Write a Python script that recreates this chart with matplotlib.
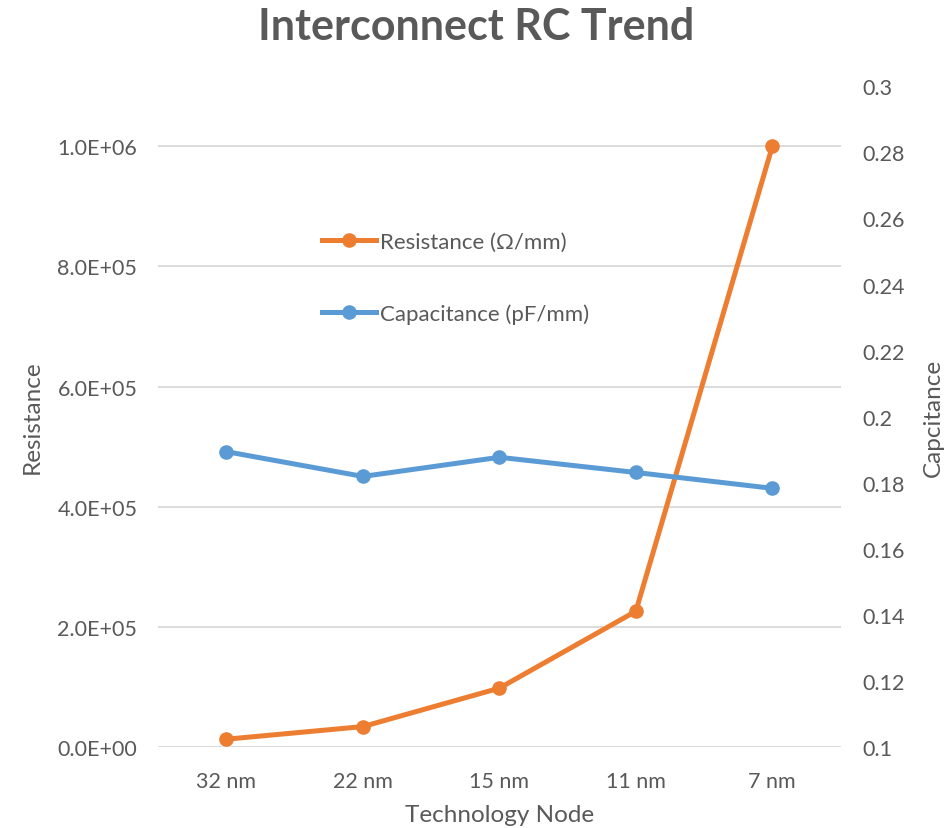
import matplotlib.pyplot as plt
import numpy as np

# Data
nodes = ['32 nm', '22 nm', '15 nm', '11 nm', '7 nm']
resistance = [1.3e4, 3.4e4, 9.8e4, 2.26e5, 1.0e6]   # Ohm/mm
capacitance = [0.1894, 0.1819, 0.1877, 0.1831, 0.1783]  # pF/mm

res_ticks = [0, 2e5, 4e5, 6e5, 8e5, 1e6]
cap_ticks = [0.1, 0.12, 0.14, 0.16, 0.18, 0.2, 0.22, 0.24, 0.26, 0.28, 0.3]

ORANGE = '#ED7D31'
BLUE = '#5B9BD5'
GRAY = '#595959'
GRID = '#D9D9D9'


def plot_rc_trend(output='out.png'):
    plt.rcParams['font.family'] = ['Lato', 'DejaVu Sans']

    fig = plt.figure(figsize=(9.53, 8.29), dpi=100)
    ax = fig.add_axes([0.166, 0.0977, 0.716, 0.797])
    ax2 = ax.twinx()

    x = np.arange(len(nodes))

    l1, = ax.plot(x, resistance, '-o', color=ORANGE, lw=3.6, ms=9.5,
                  label='Resistance (Ω/mm)')
    l2, = ax2.plot(x, capacitance, '-o', color=BLUE, lw=3.6, ms=9.5,
                   label='Capacitance (pF/mm)')

    ax.set_xlim(-0.5, len(nodes) - 0.5)
    ax.set_ylim(0, 1.1e6)
    ax2.set_ylim(0.1, 0.3)

    ax.set_xticks(x)
    ax.set_xticklabels(nodes)
    ax.set_yticks(res_ticks)
    ax.set_yticklabels([f'{v:.1E}' for v in res_ticks])
    ax2.set_yticks(cap_ticks)
    ax2.set_yticklabels([f'{v:g}' for v in cap_ticks])

    # gridlines from the primary axis only
    ax.yaxis.grid(True, color=GRID, lw=1.3)
    ax.set_axisbelow(True)

    for a in (ax, ax2):
        for s in a.spines.values():
            s.set_visible(False)
        a.tick_params(length=0, labelsize=15.5, colors=GRAY)
    ax.tick_params(axis='y', pad=15)
    ax.tick_params(axis='x', pad=17)
    ax2.tick_params(axis='y', pad=16)

    ax.set_xlabel('Technology Node', fontsize=17.5, color=GRAY)
    ax.set_ylabel('Resistance', fontsize=17.5, color=GRAY)
    ax2.set_ylabel('Capcitance', fontsize=17.5, color=GRAY)
    ax.xaxis.set_label_coords(0.5, -0.087)
    ax.yaxis.set_label_coords(-0.169, 0.5)
    ax2.yaxis.set_label_coords(1.121, 0.5)

    fig.text(0.5, 1 - 40 / 829, 'Interconnect RC Trend', fontsize=31,
             fontweight='bold', color=GRAY, ha='center', va='baseline')

    leg = ax2.legend(handles=[l1, l2], loc='upper left',
                     bbox_to_anchor=(0.211, 0.81), frameon=False,
                     fontsize=16, labelspacing=2.3, handlelength=2.4,
                     handletextpad=0.2)
    for t in leg.get_texts():
        t.set_color(GRAY)

    plt.savefig(output, dpi=100)
    plt.close()


if __name__ == "__main__":
    plot_rc_trend()
